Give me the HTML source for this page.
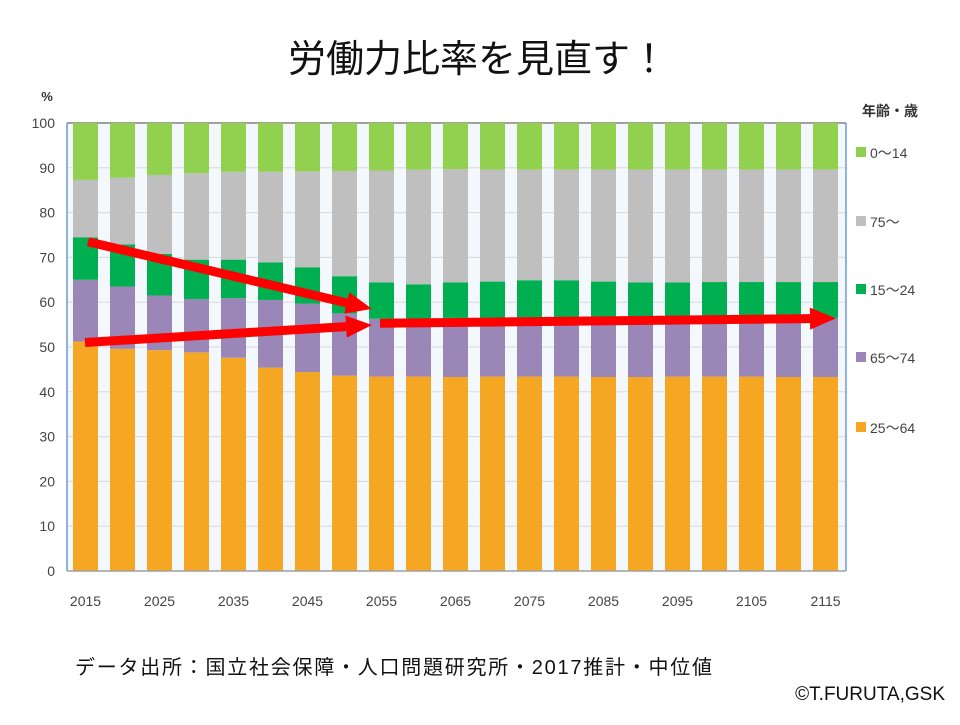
<!DOCTYPE html>
<html><head><meta charset="utf-8">
<style>
body{margin:0;background:#fff;width:960px;height:720px;overflow:hidden;font-family:"Liberation Sans","Noto Sans CJK JP",sans-serif;}
</style></head>
<body>
<svg width="960" height="720" xmlns="http://www.w3.org/2000/svg" id="chart" style="font-family:'Liberation Sans','Noto Sans CJK JP',sans-serif">
<text x="478" y="72" text-anchor="middle" font-size="38" fill="#111">労働力比率を見直す！</text>
<text x="47" y="101" font-size="13" font-weight="bold" fill="#333" text-anchor="middle">%</text>
<rect x="67" y="123" width="779" height="448" fill="#f2f8fb"/>
<g id="grid"></g><g id="bars"></g><g id="axes"></g><g id="arrows"></g><g id="legend"></g>
<text x="75" y="674" font-size="20" fill="#111" textLength="637" lengthAdjust="spacing">データ出所：国立社会保障・人口問題研究所・2017推計・中位値</text>
<text x="945" y="700" font-size="19" fill="#111" text-anchor="end">©T.FURUTA,GSK</text>
</svg>
<script>
const years=[2015,2020,2025,2030,2035,2040,2045,2050,2055,2060,2065,2070,2075,2080,2085,2090,2095,2100,2105,2110,2115];
const seriesNames=["25〜64","65〜74","15〜24","75〜","0〜14"];
const age25to64=[51.2,49.6,49.3,48.8,47.6,45.4,44.4,43.6,43.4,43.4,43.3,43.4,43.4,43.4,43.3,43.3,43.4,43.4,43.4,43.3,43.3];
const age65to74=[13.8,13.9,12.2,11.9,13.3,15.1,15.3,13.9,12.9,12.8,13.2,13.1,13.2,13.0,13.1,13.1,13.0,13.0,13.0,13.1,13.2];
const age15to24=[9.5,9.4,9.3,8.8,8.6,8.4,8.1,8.3,8.1,7.8,7.9,8.1,8.3,8.5,8.2,8.0,8.0,8.1,8.1,8.1,8.0];
const age75plus=[12.8,14.9,17.6,19.3,19.6,20.2,21.4,23.5,25.0,25.6,25.3,25.0,24.7,24.7,25.0,25.2,25.2,25.1,25.1,25.1,25.1];
const age0to14=[12.7,12.2,11.6,11.2,10.9,10.9,10.8,10.7,10.6,10.4,10.3,10.4,10.4,10.4,10.4,10.4,10.4,10.4,10.4,10.4,10.4];
const yTicks=[0,10,20,30,40,50,60,70,80,90,100];
const xTickYears=[2015,2025,2035,2045,2055,2065,2075,2085,2095,2105,2115];
const colors=["#f5a623","#9b86b8","#00b050","#bfbfbf","#92d050"];
const NS="http://www.w3.org/2000/svg";
const x0=67,x1=846,yTop=123,yBot=571,barW=25,step=37,firstLeft=73;
const yS=v=>yBot-(v/100)*(yBot-yTop);
const xL=i=>firstLeft+i*step;
const xYear=yr=>xL((yr-2015)/5)+barW/2;
function mk(tag,attrs,parent){const e=document.createElementNS(NS,tag);for(const k in attrs)e.setAttribute(k,attrs[k]);parent.appendChild(e);return e;}
const grid=document.getElementById('grid'),bars=document.getElementById('bars'),axes=document.getElementById('axes'),arrows=document.getElementById('arrows'),legend=document.getElementById('legend');
yTicks.forEach(t=>{
  const l=mk('line',{x1:x0,x2:x1,y1:yS(t),y2:yS(t),stroke:t===100?'#a0a0a0':'#d9d9d9','stroke-width':t===100?2:1},grid);
  
  
  const tx=mk('text',{x:55,y:yS(t)+5,'text-anchor':'end','font-size':14,fill:'#444'},axes);
  tx.textContent=t;
  
  
});
const data=[age25to64,age65to74,age15to24,age75plus,age0to14];
years.forEach((yr,i)=>{
  let cum=0;
  data.forEach((s,k)=>{
    const v=s[i];
    const r=mk('rect',{x:xL(i),y:yS(cum+v),width:barW,height:yS(cum)-yS(cum+v),fill:colors[k]},bars);
    
    
    cum+=v;
  });
});
[x0,x1].forEach(x=>{const l=mk('line',{x1:x,x2:x,y1:yTop,y2:yBot,stroke:'#6f9ad6','stroke-width':1.5},axes);
  
  });
const bl=mk('line',{x1:x0,x2:x1,y1:yBot,y2:yBot,stroke:'#a0a0a0','stroke-width':1.5},axes);


xTickYears.forEach(yr=>{
  const t=mk('text',{x:xYear(yr),y:606,'text-anchor':'middle','font-size':14,fill:'#444'},axes);
  t.textContent=yr;
  
  
});
function arrow(xa,ya,xb,yb){
  const g=mk('g',{},arrows);
  
  
  const dx=xb-xa,dy=yb-ya,L=Math.hypot(dx,dy),ux=dx/L,uy=dy/L,hl=26,hw=11;
  const bx=xb-ux*hl,by=yb-uy*hl;
  mk('line',{x1:xa,y1:ya,x2:bx,y2:by,stroke:'#ff0000','stroke-width':9},g);
  mk('polygon',{points:`${xb},${yb} ${bx-uy*hw},${by+ux*hw} ${bx+uy*hw},${by-ux*hw}`,fill:'#ff0000'},g);
}
arrow(88,yS(73.5),372,yS(58.5));
arrow(85,yS(51.0),372,yS(54.9));
arrow(380,yS(55.3),836,yS(56.4));
const lt=mk('text',{x:862,y:116,'font-size':14,'font-weight':'bold',fill:'#333'},legend);
lt.textContent='年齢・歳';


const legOrder=[4,3,2,1,0],legY=[153,222,290,358,428];
legOrder.forEach((k,j)=>{
  const g=mk('g',{},legend);
  
  
  mk('rect',{x:856,y:legY[j]-6,width:10,height:10,fill:colors[k]},g);
  const t=mk('text',{x:870,y:legY[j]+5,'font-size':14,fill:'#444'},g);
  t.textContent=seriesNames[k];
});
</script>
</body></html>
